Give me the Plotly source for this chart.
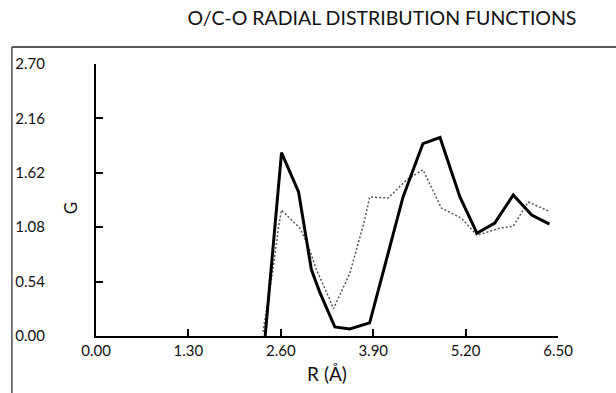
import plotly.graph_objects as go

# Solid curve (thick)
solid_r = [2.38, 2.61, 2.85, 3.03, 3.15, 3.36, 3.57, 3.85, 4.32, 4.60, 4.84, 5.12, 5.36, 5.61, 5.87, 6.13, 6.38]
solid_g = [0.00, 1.82, 1.43, 0.66, 0.43, 0.09, 0.07, 0.13, 1.38, 1.91, 1.97, 1.38, 1.02, 1.12, 1.40, 1.20, 1.11]

# Dotted curve (thin)
dot_r = [2.35, 2.49, 2.57, 2.61, 2.71, 2.87, 2.99, 3.10, 3.29, 3.34, 3.57, 3.78, 3.85, 4.11, 4.37, 4.60, 4.86, 5.14, 5.36, 5.68, 5.87, 6.08, 6.37]
dot_g = [0.04, 0.66, 1.09, 1.25, 1.18, 1.07, 0.89, 0.66, 0.36, 0.27, 0.62, 1.15, 1.38, 1.37, 1.55, 1.65, 1.27, 1.17, 1.00, 1.07, 1.09, 1.33, 1.24]

x_ticks = [0.00, 1.30, 2.60, 3.90, 5.20, 6.50]
x_labels = ["0.00", "1.30", "2.60", "3.90", "5.20", "6.50"]
y_ticks = [0.00, 0.54, 1.08, 1.62, 2.16, 2.70]
y_labels = ["0.00", "0.54", "1.08", "1.62", "2.16", "2.70"]

font_family = "Lato, 'Open Sans', sans-serif"

fig = go.Figure()
fig.add_trace(go.Scatter(x=dot_r, y=dot_g, mode="lines",
                         line=dict(color="#555555", width=1.5, dash="2px,2px"),
                         showlegend=False))
fig.add_trace(go.Scatter(x=solid_r, y=solid_g, mode="lines",
                         line=dict(color="#000000", width=3),
                         showlegend=False))

fig.update_layout(
    width=616, height=393,
    margin=dict(l=96, r=58, t=64, b=57),
    paper_bgcolor="white", plot_bgcolor="white",
    font=dict(family=font_family, color="#111111", size=15),
    title=dict(text="O/C-O RADIAL DISTRIBUTION FUNCTIONS", x=0.62, xanchor="center",
               y=0.955, yanchor="middle", font=dict(size=19.5, family=font_family)),
    xaxis=dict(range=[0, 6.5], tickvals=x_ticks, ticktext=x_labels,
               showgrid=False, zeroline=False, showline=True, linecolor="#000",
               linewidth=2, ticks="inside", ticklen=7, tickwidth=1.5, tickcolor="#000",
               tickfont=dict(size=15),
               title=dict(text="R (Å)", font=dict(size=19), standoff=10)),
    yaxis=dict(range=[0, 2.7], tickvals=y_ticks, ticktext=y_labels,
               showgrid=False, zeroline=False, showline=True, linecolor="#000",
               linewidth=2, ticks="inside", ticklen=7, tickwidth=1.5, tickcolor="#000",
               tickfont=dict(size=15), ticklabelstandoff=46),
    annotations=[dict(text="G", xref="paper", yref="paper", x=-0.056, y=0.47,
                      xanchor="center", yanchor="middle",
                      textangle=-90, showarrow=False, font=dict(size=17))],
    shapes=[
        dict(type="line", xref="paper", yref="paper", x0=-0.182, x1=1.13,
             y0=1.0625, y1=1.0625, line=dict(color="#222", width=1.5)),
        dict(type="line", xref="paper", yref="paper", x0=-0.182, x1=-0.182,
             y0=1.0625, y1=-0.22, line=dict(color="#222", width=1.2)),
    ],
)

fig.write_html("out.html")
